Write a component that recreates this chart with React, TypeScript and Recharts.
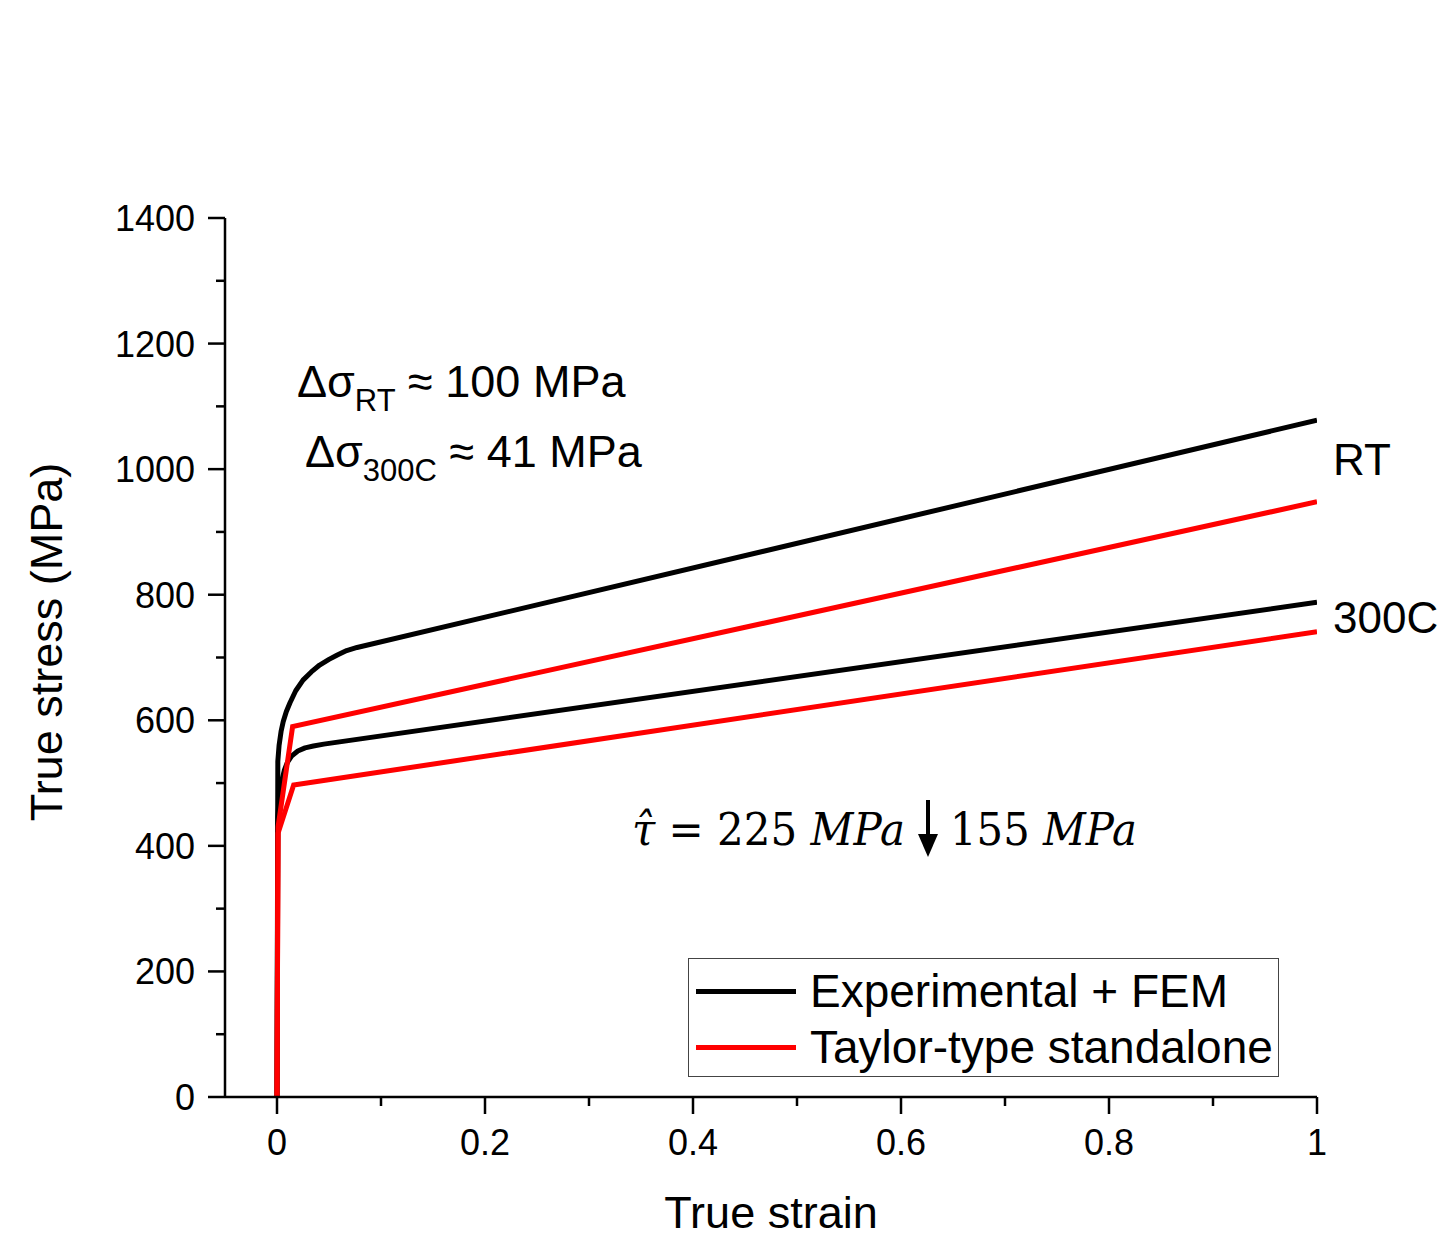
import React from 'react';
import { LineChart, Line, XAxis, YAxis, Legend, Customized } from 'recharts';

// ---- Data (true strain, true stress in MPa) ----
const rtExpStrain = [0, 0.0008, 0.002, 0.004, 0.006, 0.009, 0.0125, 0.018, 0.025, 0.033, 0.041, 0.05, 0.058, 0.067, 0.077, 1];
const rtExpStress = [0, 535, 560, 583, 598, 614, 628, 647, 664, 677, 688, 697, 704, 711, 716, 1078];

const rtTaylorStrain = [0, 0.001, 0.015, 1];
const rtTaylorStress = [0, 430, 590, 948];

const hotExpStrain = [0, 0.0008, 0.002, 0.004, 0.007, 0.01, 0.014, 0.02, 0.027, 0.035, 0.045, 1];
const hotExpStress = [0, 445, 475, 500, 520, 533, 543, 551, 556, 559, 562, 788];

const hotTaylorStrain = [0, 0.001, 0.016, 1];
const hotTaylorStress = [0, 420, 497, 741];

const xTicks = [0, 0.1, 0.2, 0.3, 0.4, 0.5, 0.6, 0.7, 0.8, 0.9, 1];
const xMajor = [0, 0.2, 0.4, 0.6, 0.8, 1];
const yTicks = [0, 100, 200, 300, 400, 500, 600, 700, 800, 900, 1000, 1100, 1200, 1300, 1400];
const yMajor = [0, 200, 400, 600, 800, 1000, 1200, 1400];

const legendLabels = ['Experimental + FEM', 'Taylor-type standalone'];
const legendColors = ['#000000', '#ff0000'];

const toPoints = (xs: number[], ys: number[]) => xs.map((x, i) => ({ x, y: ys[i] }));

const rtExp = toPoints(rtExpStrain, rtExpStress);
const rtTaylor = toPoints(rtTaylorStrain, rtTaylorStress);
const hotExp = toPoints(hotExpStrain, hotExpStress);
const hotTaylor = toPoints(hotTaylorStrain, hotTaylorStress);

const FONT = '"Liberation Sans", Arial, sans-serif';
const MATH = '"DejaVu Serif", serif';

const XTick = (props: any) => {
  const { x, y, payload } = props;
  const v = payload.value;
  const major = xMajor.some((m) => Math.abs(m - v) < 1e-9);
  return (
    <g>
      <line x1={x} x2={x} y1={y} y2={y + (major ? 17 : 9)} stroke="#000" strokeWidth={2.5} />
      {major && (
        <text x={x} y={y + 58} textAnchor="middle" fontSize={36} fontFamily={FONT} fill="#000">
          {String(v)}
        </text>
      )}
    </g>
  );
};

const YTick = (props: any) => {
  const { x, y, payload } = props;
  const v = payload.value;
  const major = yMajor.includes(v);
  return (
    <g>
      <line x1={x} x2={x - (major ? 17 : 9)} y1={y} y2={y} stroke="#000" strokeWidth={2.5} />
      {major && (
        <text x={x - 30} y={y} dy="0.36em" textAnchor="end" fontSize={36} fontFamily={FONT} fill="#000">
          {String(v)}
        </text>
      )}
    </g>
  );
};

const LegendBox = () => (
  <div
    style={{
      width: 591,
      height: 119,
      boxSizing: 'border-box',
      border: '1.5px solid #444',
      background: '#fff',
      position: 'relative',
    }}
  >
    {legendLabels.map((label, i) => (
      <div
        key={label}
        style={{ position: 'absolute', left: 0, top: 4 + i * 56, height: 56, display: 'flex', alignItems: 'center' }}
      >
        <div style={{ width: 100, height: 5, background: legendColors[i], marginLeft: 7, marginRight: 14 }} />
        <span style={{ fontFamily: FONT, fontSize: 46, color: '#000', whiteSpace: 'nowrap', lineHeight: '56px' }}>
          {label}
        </span>
      </div>
    ))}
  </div>
);

const Annotations = () => (
  <g>
    {/* axis titles */}
    <text x={771} y={1228} textAnchor="middle" fontSize={45} fontFamily={FONT} fill="#000">
      True strain
    </text>
    <text
      x={62}
      y={642}
      textAnchor="middle"
      fontSize={45}
      fontFamily={FONT}
      fill="#000"
      transform="rotate(-90, 62, 642)"
    >
      True stress (MPa)
    </text>

    {/* delta sigma notes */}
    <text x={297} y={397} fontSize={45} fontFamily={FONT} fill="#000">
      Δσ
      <tspan fontSize={31} dy={14}>RT</tspan>
      <tspan dy={-14}> ≈ 100 MPa</tspan>
    </text>
    <text x={305} y={467} fontSize={45} fontFamily={FONT} fill="#000">
      Δσ
      <tspan fontSize={31} dy={14}>300C</tspan>
      <tspan dy={-14}> ≈ 41 MPa</tspan>
    </text>

    {/* curve labels */}
    <text x={1333} y={475} fontSize={44} fontFamily={FONT} fill="#000">
      RT
    </text>
    <text x={1333} y={633} fontSize={44} fontFamily={FONT} fill="#000">
      300C
    </text>

    {/* tau hat note */}
    <text
      x={632}
      y={845}
      fontSize={44}
      fontFamily={MATH}
      fill="#000"
      textLength={273}
      lengthAdjust="spacingAndGlyphs"
    >
      <tspan fontStyle="italic">{'\u03C4\u0302'}</tspan>
      <tspan> = 225 </tspan>
      <tspan fontStyle="italic">MPa</tspan>
    </text>
    <line x1={928} x2={928} y1={800} y2={838} stroke="#000" strokeWidth={4} />
    <path d="M918,834 L938,834 L928,857 Z" fill="#000" />
    <text
      x={950}
      y={845}
      fontSize={44}
      fontFamily={MATH}
      fill="#000"
      textLength={187}
      lengthAdjust="spacingAndGlyphs"
    >
      <tspan>155 </tspan>
      <tspan fontStyle="italic">MPa</tspan>
    </text>
  </g>
);

export default function App() {
  return (
    <div style={{ position: 'absolute', left: 0, top: 0, width: 1439, height: 1243, background: '#fff' }}>
      <LineChart
        width={1439}
        height={1243}
        margin={{ top: 218, right: 122, bottom: 86, left: 125 }}
        style={{ fontFamily: FONT }}
      >
        <XAxis
          dataKey="x"
          type="number"
          domain={[-0.05, 1]}
          ticks={xTicks}
          allowDataOverflow
          height={60}
          tickSize={0}
          tickMargin={0}
          tickLine={false}
          tick={<XTick />}
          axisLine={{ stroke: '#000', strokeWidth: 2.5 }}
          interval={0}
        />
        <YAxis
          type="number"
          domain={[0, 1400]}
          ticks={yTicks}
          allowDataOverflow
          width={100}
          tickSize={0}
          tickMargin={0}
          tickLine={false}
          tick={<YTick />}
          axisLine={{ stroke: '#000', strokeWidth: 2.5 }}
          interval={0}
        />
        <XAxis
          xAxisId="top"
          orientation="top"
          type="number"
          domain={[-0.05, 1]}
          height={0}
          tick={false}
          tickLine={false}
          axisLine={{ stroke: '#000', strokeWidth: 2.5 }}
        />
        <YAxis
          yAxisId="right"
          orientation="right"
          type="number"
          domain={[0, 1400]}
          width={0}
          tick={false}
          tickLine={false}
          axisLine={{ stroke: '#000', strokeWidth: 2.5 }}
        />
        <Line data={rtExp} dataKey="y" type="linear" stroke="#000" strokeWidth={5} strokeLinejoin="round" dot={false} isAnimationActive={false} name="rtExp" />
        <Line data={hotExp} dataKey="y" type="linear" stroke="#000" strokeWidth={5} strokeLinejoin="round" dot={false} isAnimationActive={false} name="hotExp" />
        <Line data={rtTaylor} dataKey="y" type="linear" stroke="#ff0000" strokeWidth={5} dot={false} isAnimationActive={false} name="rtTaylor" />
        <Line data={hotTaylor} dataKey="y" type="linear" stroke="#ff0000" strokeWidth={5} dot={false} isAnimationActive={false} name="hotTaylor" />
        <Legend
          layout="horizontal"
          verticalAlign="middle"
          align="center"
          content={<LegendBox />}
          wrapperStyle={{ left: 688, top: 958, width: 591, height: 119 }}
        />
        <Customized component={<Annotations />} />
      </LineChart>
    </div>
  );
}
